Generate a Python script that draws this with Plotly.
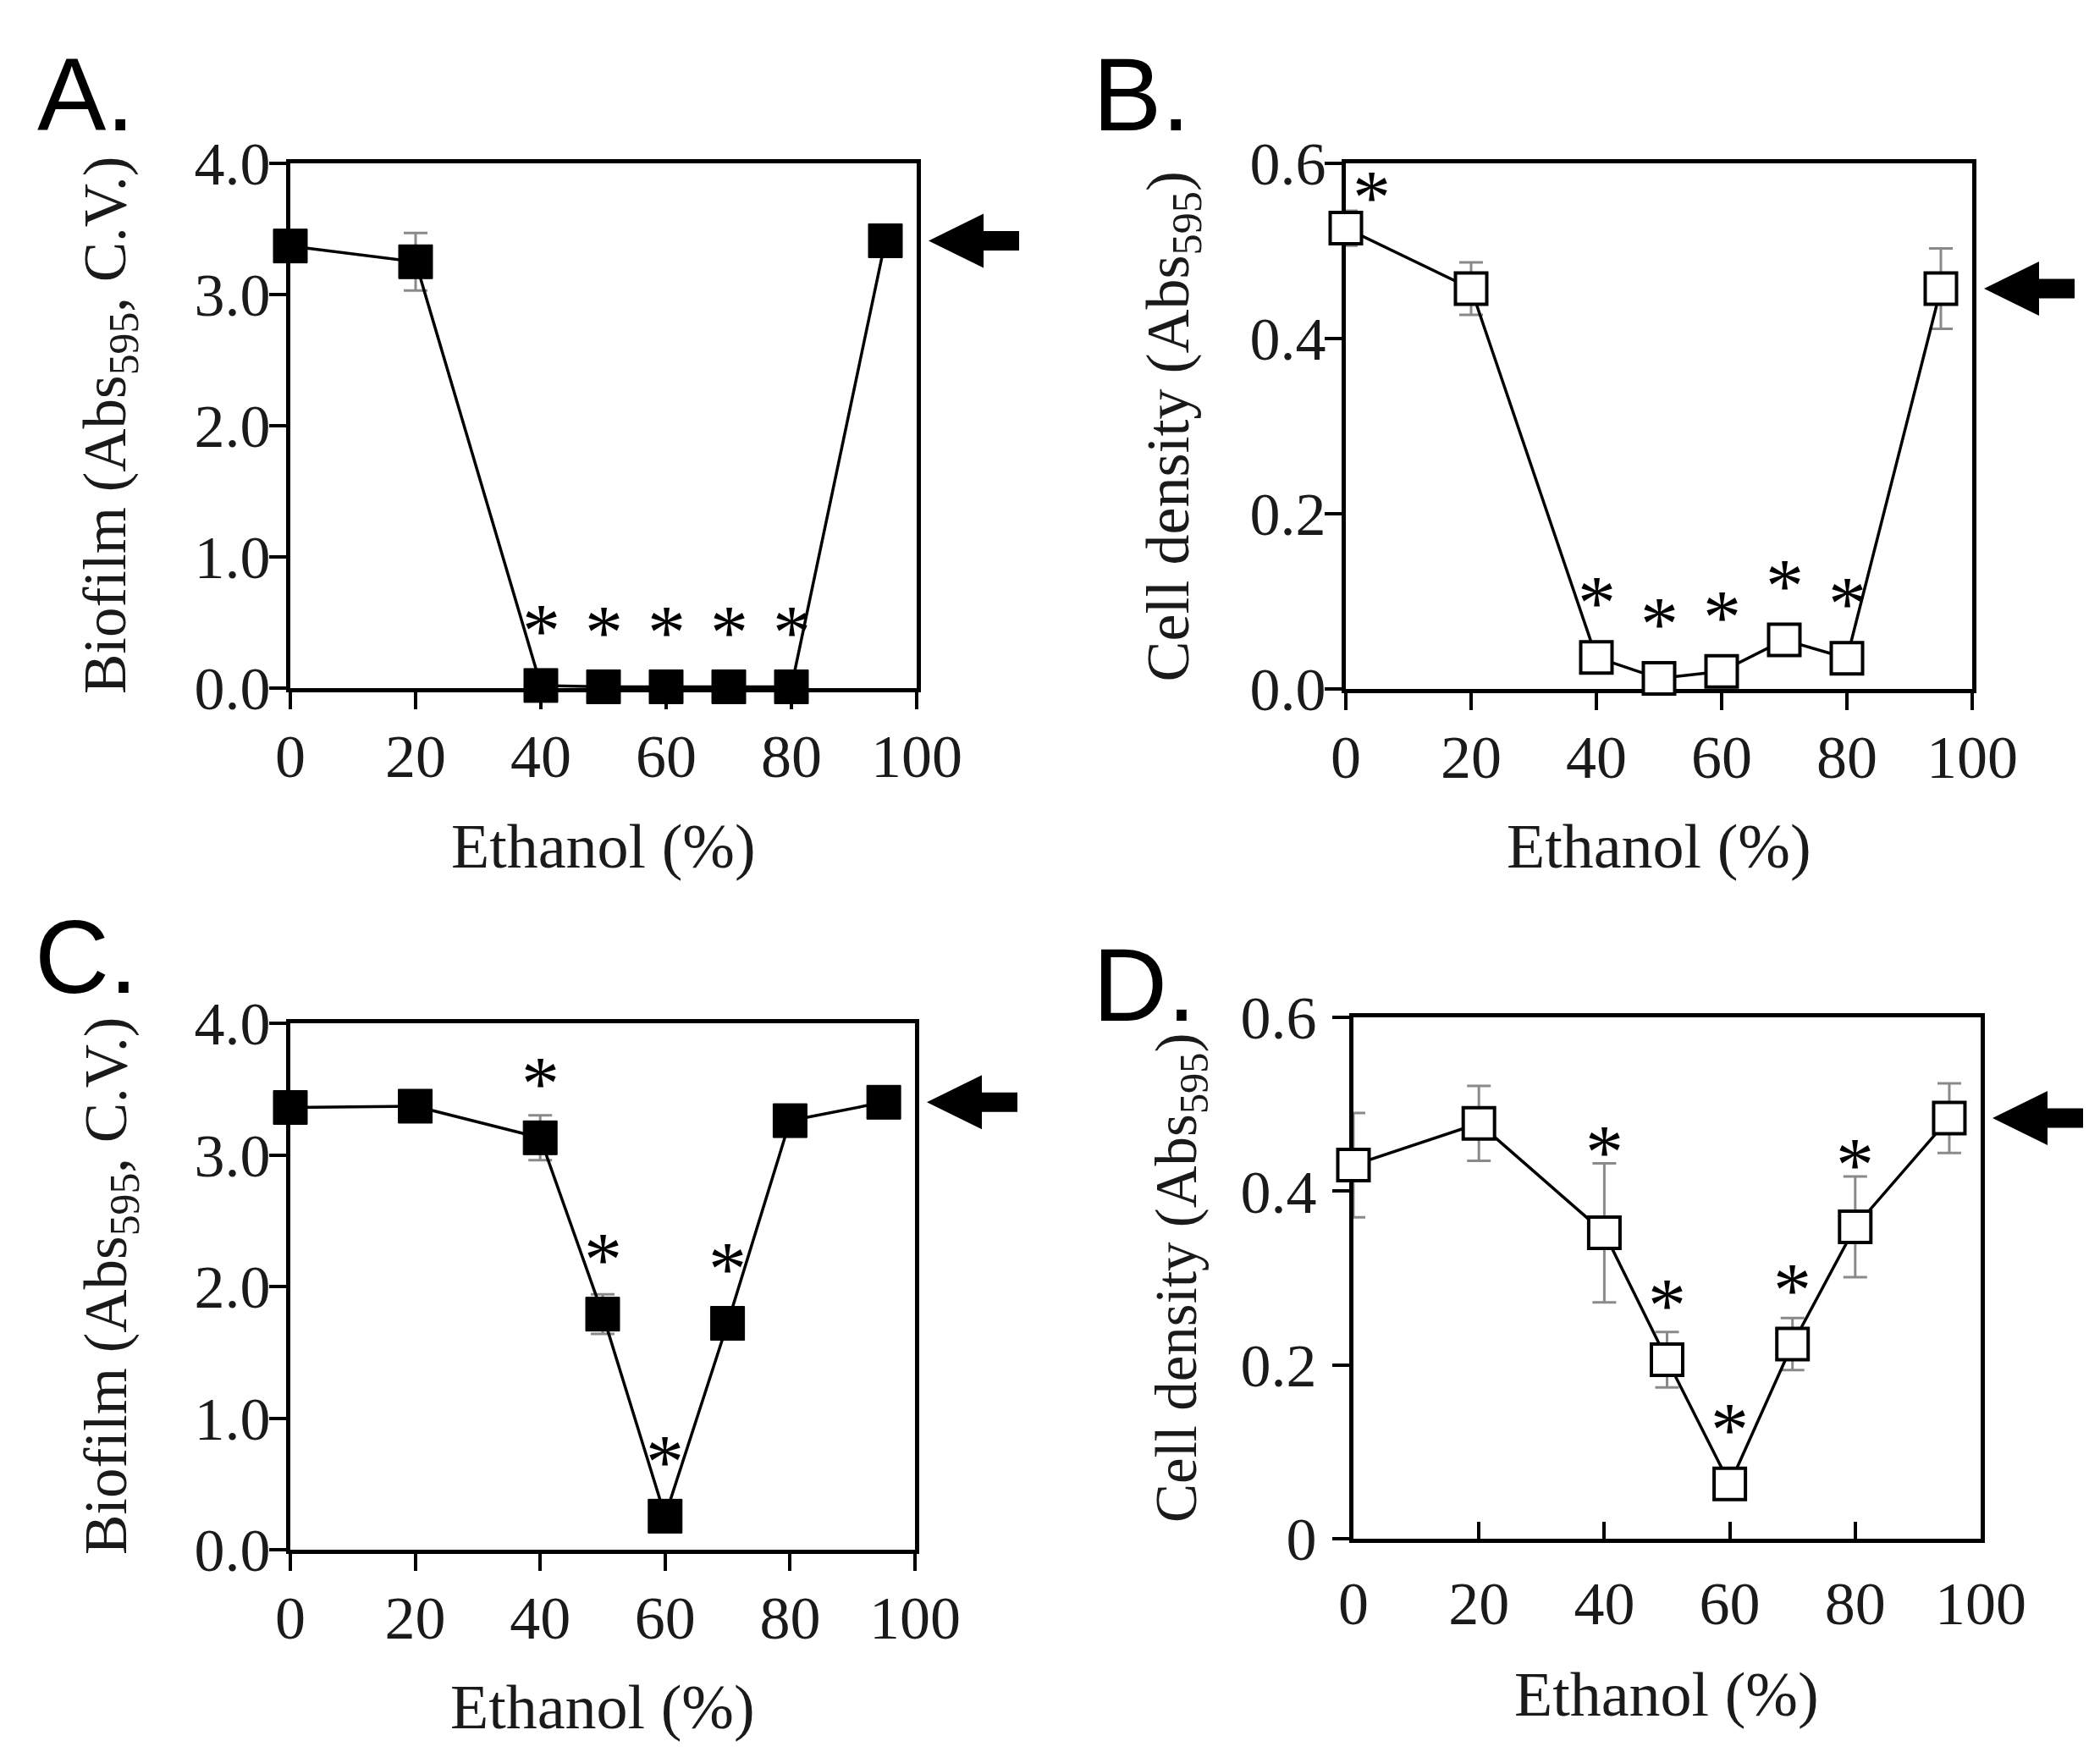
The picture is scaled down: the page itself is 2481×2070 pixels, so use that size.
import plotly.graph_objects as go

# ---------------- data ----------------
ethanol = [0, 20, 40, 50, 60, 70, 80, 95]

biofilm_A = [3.37, 3.25, 0.02, 0.01, 0.01, 0.01, 0.01, 3.41]
biofilm_A_err = [0.05, 0.22, 0.01, 0.01, 0.01, 0.01, 0.01, 0.07]
stars_A = [40, 50, 60, 70, 80]

density_B = [0.526, 0.457, 0.036, 0.012, 0.020, 0.056, 0.035, 0.457]
density_B_err = [0.02, 0.03, 0.005, 0.005, 0.005, 0.005, 0.005, 0.046]
stars_B = [0, 40, 50, 60, 70, 80]

biofilm_C = [3.36, 3.37, 3.13, 1.79, 0.255, 1.72, 3.26, 3.40]
biofilm_C_err = [0.05, 0.05, 0.17, 0.15, 0.05, 0.05, 0.05, 0.05]
stars_C = [40, 50, 60, 70]

density_D = [0.430, 0.478, 0.352, 0.206, 0.063, 0.224, 0.359, 0.484]
density_D_err = [0.060, 0.043, 0.080, 0.032, 0.010, 0.030, 0.058, 0.040]
stars_D = [40, 50, 60, 70, 80]

x_ticks = [0, 20, 40, 60, 80, 100]
biofilm_ticks = [0, 1, 2, 3, 4]
biofilm_ticktext = ["0.0", "1.0", "2.0", "3.0", "4.0"]
density_ticks = [0, 0.2, 0.4, 0.6]
density_ticktext_B = ["0.0", "0.2", "0.4", "0.6"]
density_ticktext_D = ["0", "0.2", "0.4", "0.6"]

panel_letters = ["A.", "B.", "C.", "D."]
biofilm_title = "Biofilm (Abs<sub>595</sub>, C.V.)"
density_title = "Cell density (Abs<sub>595</sub>)"
x_title = "Ethanol (%)"

# ---------------- layout geometry (pixels in the final picture) ----------------
W, H = 2481, 2070
PAGE_OFFSET = 8  # default body margin of the html page
SERIF = "Liberation Serif, Times New Roman, serif"
SANS = "Liberation Sans, Arial, sans-serif"
TXT = "#1a1a1a"

panels = [
    dict(l=343, r=1083, t=193, b=813, yr=[0, 4], y=biofilm_A, e=biofilm_A_err, s=stars_A,
         filled=True, tv=biofilm_ticks, tt=biofilm_ticktext, yt=biofilm_title, ytx=130, xty=1000,
         letter=(42, 112), xticks="outside", xstand=-6, ystand=-16, tsize=71),
    dict(l=1590, r=2330, t=193, b=814, yr=[0, 0.6], y=density_B, e=density_B_err, s=stars_B,
         filled=False, tv=density_ticks, tt=density_ticktext_B, yt=density_title, ytx=1385, xty=1000,
         letter=(1289, 112), xticks="outside", xstand=-6, ystand=-16, tsize=72),
    dict(l=343, r=1081, t=1209, b=1831, yr=[0, 4], y=biofilm_C, e=biofilm_C_err, s=stars_C,
         filled=True, tv=biofilm_ticks, tt=biofilm_ticktext, yt=biofilm_title, ytx=130, xty=2017,
         letter=(39, 1131), xticks="outside", xstand=-6, ystand=-16, tsize=71),
    dict(l=1599, r=2340, t=1202, b=1818, yr=[0, 0.6], y=density_D, e=density_D_err, s=stars_D,
         filled=False, tv=density_ticks, tt=density_ticktext_D, yt=density_title, ytx=1394, xty=2002,
         letter=(1289, 1164), xticks="inside", xstand=10, ystand=4, tsize=69),
]


def px_x(p):
    return (p - PAGE_OFFSET) / W


def px_y(p):
    return 1 - (p - PAGE_OFFSET) / H


fig = go.Figure()
annotations = []
shapes = []

for i, P in enumerate(panels):
    n = i + 1
    xa = "x" if n == 1 else f"x{n}"
    ya = "y" if n == 1 else f"y{n}"
    fig.add_trace(go.Scatter(
        x=ethanol, y=P["y"], xaxis=xa, yaxis=ya, mode="lines+markers",
        line=dict(color="black", width=3.5),
        marker=dict(symbol="square", size=37 if not P["filled"] else 40,
                    color="black" if P["filled"] else "white",
                    line=dict(color="black", width=4 if not P["filled"] else 1)),
        error_y=dict(type="data", array=P["e"], visible=True, color="#8a8a8a",
                     thickness=3, width=14),
        cliponaxis=False, showlegend=False, hoverinfo="skip",
    ))

    axis_common = dict(showline=True, linecolor="black", linewidth=5, mirror=True,
                       showgrid=False, zeroline=False, ticks="outside", ticklen=20,
                       tickwidth=4, tickcolor="black", layer="below traces",
                       automargin=False,
                       tickfont=dict(family=SERIF, size=72, color=TXT))
    xd = dict(axis_common)
    xd.update(domain=[px_x(P["l"]), px_x(P["r"])], range=[0, 100], tickvals=x_ticks,
              anchor=ya, ticks=P["xticks"], ticklabelstandoff=P["xstand"])
    yd = dict(axis_common)
    yd.update(domain=[px_y(P["b"]), px_y(P["t"])], range=P["yr"], tickvals=P["tv"],
              ticktext=P["tt"], anchor=xa, ticklabelstandoff=P["ystand"])
    fig.update_layout(**{("xaxis" if n == 1 else f"xaxis{n}"): xd,
                         ("yaxis" if n == 1 else f"yaxis{n}"): yd})

    height_px = P["b"] - P["t"]
    span = P["yr"][1] - P["yr"][0]

    # significance stars
    for sx in P["s"]:
        k = ethanol.index(sx)
        err_px = P["e"][k] / span * height_px
        shift = max(78, err_px + 27)
        xshift = 0
        if sx == 0:
            shift, xshift = 50, 30
        annotations.append(dict(
            x=sx, y=P["y"][k], xref=xa, yref=ya, text="*", showarrow=False,
            xanchor="center", yanchor="middle", yshift=shift - 14, xshift=xshift,
            font=dict(family=SERIF, size=90, color="black")))

    # arrow pointing at last (95%) value
    yv = P["b"] - (P["y"][-1] - P["yr"][0]) / span * height_px
    xr = P["r"]
    pts = [(xr + 14, yv), (xr + 79, yv - 32), (xr + 79, yv - 11.5), (xr + 121, yv - 11.5),
           (xr + 121, yv + 11.5), (xr + 79, yv + 11.5), (xr + 79, yv + 32)]
    path = "M " + " L ".join(f"{px_x(a):.5f},{px_y(b):.5f}" for a, b in pts) + " Z"
    shapes.append(dict(type="path", path=path, xref="paper", yref="paper",
                       fillcolor="black", line=dict(color="black", width=0)))

    # axis titles
    annotations.append(dict(
        x=px_x(P["ytx"]), y=px_y((P["t"] + P["b"]) / 2), xref="paper", yref="paper",
        text=P["yt"], textangle=-90, showarrow=False, xanchor="center", yanchor="middle",
        font=dict(family=SERIF, size=P["tsize"], color=TXT)))
    annotations.append(dict(
        x=px_x((P["l"] + P["r"]) / 2), y=px_y(P["xty"]), xref="paper", yref="paper",
        text=x_title, showarrow=False, xanchor="center", yanchor="middle",
        font=dict(family=SERIF, size=74, color=TXT)))
    # panel letter
    lx, ly = P["letter"]
    annotations.append(dict(
        x=px_x(lx), y=px_y(ly), xref="paper", yref="paper", text=panel_letters[i],
        showarrow=False, xanchor="left", yanchor="middle",
        font=dict(family=SANS, size=122, color="black")))

fig.update_layout(width=W, height=H, margin=dict(l=0, r=0, t=0, b=0, autoexpand=False),
                  paper_bgcolor="white", plot_bgcolor="white",
                  annotations=annotations, shapes=shapes)

fig.write_html("out.html")
